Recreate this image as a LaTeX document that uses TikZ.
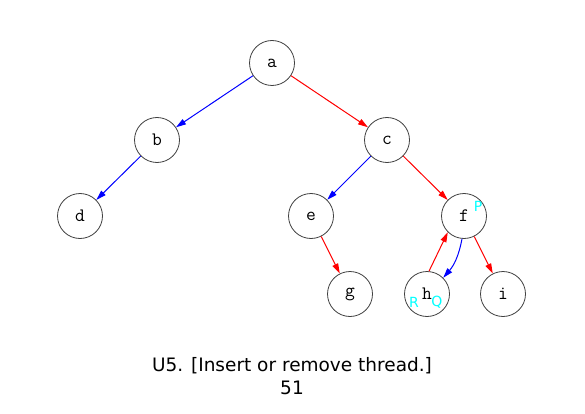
\documentclass[tikz,border=0pt]{standalone}
\usepackage{fontspec}
\setmainfont{DejaVu Sans}
\usetikzlibrary{positioning, arrows.meta}
\definecolor{threadcyan}{RGB}{0,255,255}
\tikzset{
  treenode/.style={
    draw=black!75,
    circle,
    line width=0.8pt,
    minimum size=45pt,
    inner sep=0pt,
    font=\ttfamily\fontsize{19}{19}\selectfont
  },
  leftlink/.style={
    draw=blue,
    line width=1pt,
    -{Triangle[length=10pt,width=6pt]}
  },
  rightlink/.style={
    draw=red,
    line width=1pt,
    -{Triangle[length=10pt,width=6pt]}
  },
  tag/.style={
    text=threadcyan,
    inner sep=0pt,
    font=\fontsize{14}{14}\selectfont
  }
}
\begin{document}
\begin{tikzpicture}[x=1pt, y=-1pt]
        \useasboundingbox (0,0) rectangle (585,414);
        \node[treenode] (a) at (272,63) {a};
        \node[treenode] (b) at (157,140) {b};
        \node[treenode] (c) at (387,140) {c};
        \node[treenode] (d) at (80,216) {d};
        \node[treenode] (e) at (311,216) {e};
        \node[treenode] (f) at (464,216) {f};
        \node[treenode] (g) at (350,294) {g};
        \node[treenode] (h) at (427,294) {h};
        \node[treenode] (i) at (503,294) {i};

        \node[tag] (P) at (478,206) {P};
        \node[tag] (R) at (414,302) {R};
        \node[tag] (Q) at (437,302) {Q};

        \draw[leftlink] (a) -- (b);
        \draw[rightlink] (a) -- (c);
        \draw[leftlink] (b) -- (d);
        \draw[leftlink] (c) -- (e);
        \draw[rightlink] (c) -- (f);
        \draw[rightlink] (e) -- (g);
        \draw[leftlink] (f.265) to[bend left=15] (h.45);
        \draw[rightlink] (h.85) -- (f.225);
        \draw[rightlink] (f) -- (i);

        \node (title) at (292,366) {\fontsize{18.5}{18.5}\selectfont U5. [Insert or remove thread.]};
        \node (page) at (292,388) {\fontsize{18.5}{18.5}\selectfont 51};
      \end{tikzpicture}
\end{document}
